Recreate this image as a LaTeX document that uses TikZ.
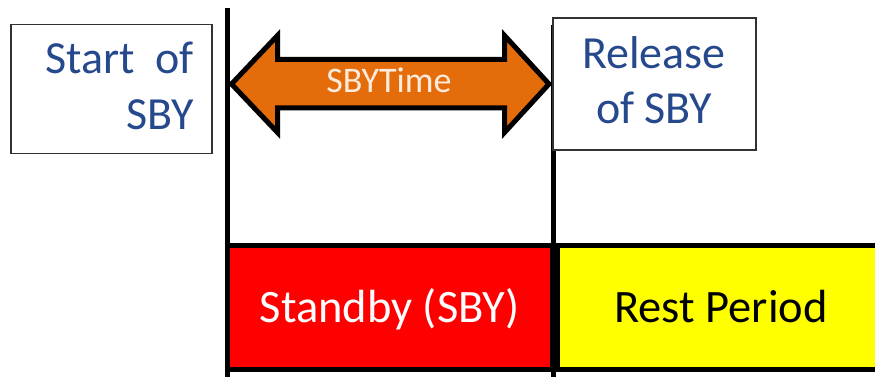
\documentclass[tikz,border=0pt]{standalone}
\usepackage{fontspec}
\setmainfont{Carlito}
\definecolor{sbyorange}{RGB}{228,108,10}
\definecolor{sbyblue}{RGB}{38,72,140}
\definecolor{sbyred}{RGB}{255,0,0}
\definecolor{sbyyellow}{RGB}{255,255,0}
\definecolor{sbyframe}{RGB}{50,50,50}
\definecolor{sbylight}{RGB}{253,236,222}
\begin{document}
\begin{tikzpicture}[x=1pt,y=-1pt,
  timeline/.style={line width=5pt, draw=black},
  eventbox/.style={draw=sbyframe, line width=1.8pt, fill=white},
  eventtext/.style={text=sbyblue, inner sep=0pt, font=\fontsize{46}{55}\selectfont},
  phase/.style={draw=black, line width=5pt},
  phasetext/.style={inner sep=0pt, anchor=base, font=\fontsize{46.5}{54}\selectfont},
  spanarrow/.style={draw=black, line width=5pt, fill=sbyorange, line join=miter, miter limit=10}]
\clip (0,0) rectangle (875,377);

% time markers
\coordinate (t0top) at (227.5,8);
\coordinate (t0bot) at (227.5,380);
\coordinate (t1top) at (553,25);
\coordinate (t1bot) at (553,380);
\draw[timeline] (t0top) -- (t0bot);
\draw[timeline] (t1top) -- (t1bot);

% phases
\draw[phase, fill=sbyred] (227.5,245.5) rectangle (552.5,369.5);
\draw[phase, fill=sbyyellow] (557.5,245.5) rectangle (890,369.5);
\node[phasetext, text=white] (standby) at (389.5,322) {Standby (SBY)};
\node[phasetext, text=black] (rest) at (721,322) {Rest Period};

% event boxes (base anchor of a two-line label sits on its last line)
\node[eventbox, minimum width=201pt, minimum height=129pt] (startbox) at (111.5,89) {};
\node[eventtext, anchor=base east, align=right] (startlbl) at (194,129) {Start~~of\\SBY};
\node[eventbox, minimum width=203pt, minimum height=132pt] (relbox) at (654.5,84) {};
\node[eventtext, anchor=base, align=center] (rellbl) at (654,124) {Release\\of SBY};

% standby duration arrow
\draw[spanarrow] (231.5,84) -- (277.5,35.5) -- (277.5,59.5) -- (504.5,59.5)
  -- (504.5,35.5) -- (549,84) -- (504.5,132.5) -- (504.5,108) -- (277.5,108)
  -- (277.5,132.5) -- cycle;
\node[inner sep=0pt, anchor=base, text=sbylight, font=\fontsize{36}{40}\selectfont] (sbytime) at (389,93) {SBYTime};
\end{tikzpicture}
\end{document}
